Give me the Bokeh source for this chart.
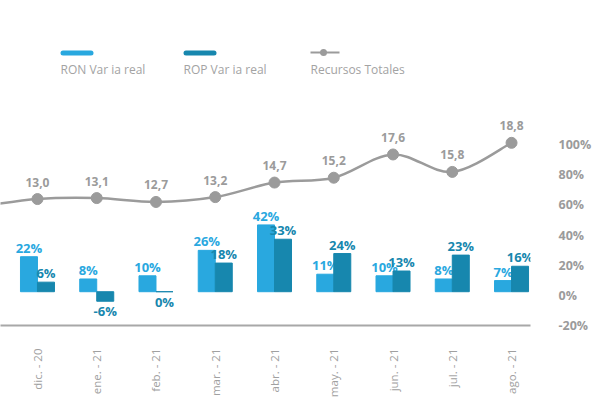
import math
from bokeh.plotting import figure
from bokeh.models import (ColumnDataSource, Range1d, LinearAxis, FixedTicker,
                          Label, BoxAnnotation)
from bokeh.core.properties import value
from bokeh.transform import dodge
from bokeh.embed import file_html
from bokeh.resources import INLINE

# ---------------- data ----------------
months = ["dic. - 20", "ene. - 21", "feb. - 21", "mar. - 21", "abr. - 21",
          "may. - 21", "jun. - 21", "jul. - 21", "ago. - 21"]
ron_var = [22, 8, 10, 26, 42, 11, 10, 8, 7]
rop_var = [6, -6, 0, 18, 33, 24, 13, 23, 16]
recursos = [13.0, 13.1, 12.7, 13.2, 14.7, 15.2, 17.6, 15.8, 18.8]
recursos_prev = 12.2          # previous month, off the left edge (line only)
axis_ticks = [-20, 0, 20, 40, 60, 80, 100]

RON_C = "#29a8df"
ROP_C = "#1787ae"
GRAY = "#9b9b9b"
FONT = "Open Sans"

idx = list(range(len(months)))

p = figure(width=600, height=400, output_backend="svg", toolbar_location=None,
           x_range=Range1d(-0.624, 8.32), y_range=Range1d(-21.25, 183.1),
           y_axis_location=None, min_border_left=0, min_border_top=0,
           min_border_right=70, min_border_bottom=73)
p.title.visible = False
p.outline_line_color = None
p.grid.visible = False
p.background_fill_color = "white"
p.border_fill_color = "white"
p.extra_y_ranges = {"line": Range1d(-0.05, 33.49), "axis": Range1d(-20, 195.6)}

# ---------------- x axis ----------------
xa = p.xaxis[0]
xa.ticker = FixedTicker(ticks=idx)
xa.major_label_overrides = {i: m for i, m in zip(idx, months)}
xa.major_label_orientation = math.pi / 2
xa.major_tick_line_color = None
xa.minor_tick_line_color = None
xa.axis_line_color = "#a8a8a8"
xa.axis_line_width = 2
xa.major_label_standoff = 17
xa.major_label_text_font = FONT
xa.major_label_text_font_size = "11.5px"
xa.major_label_text_color = "#a0a0a0"

# ---------------- right axis ----------------
ra = LinearAxis(y_range_name="axis", ticker=FixedTicker(ticks=axis_ticks))
ra.major_label_overrides = {t: f"{t}%" for t in axis_ticks}
ra.axis_line_color = None
ra.major_tick_line_color = None
ra.minor_tick_line_color = None
ra.major_label_standoff = 22
ra.major_label_text_font = FONT
ra.major_label_text_font_style = "bold"
ra.major_label_text_font_size = "12.5px"
ra.major_label_text_color = GRAY
p.add_layout(ra, "right")

# ---------------- bars ----------------
bw = 0.287
src = ColumnDataSource(dict(x=idx, ron=ron_var, rop=rop_var,
                            ron_t=[f"{v}%" for v in ron_var],
                            rop_t=[f"{v}%" for v in rop_var]))

p.vbar(x=dodge("x", -bw / 2, range=p.x_range), top="ron", bottom=0, width=bw,
       source=src, fill_color=RON_C, line_color=RON_C, line_width=1)

def label_sources(vals, texts):
    pos = dict(x=[], y=[], t=[])
    neg = dict(x=[], y=[], t=[])
    for i, v, t in zip(idx, vals, texts):
        d = pos if v > 0 else neg
        d["x"].append(i); d["y"].append(v); d["t"].append(t)
    return ColumnDataSource(pos), ColumnDataSource(neg)

def draw_labels(vals, texts, off, color):
    ps, ns = label_sources(vals, texts)
    p.text(x=dodge("x", off, range=p.x_range), y="y", text="t", source=ps,
           text_align="center", text_baseline="bottom", y_offset=0,
           text_font=value(FONT), text_font_style="bold",
           text_font_size="13px", text_color=color)
    p.text(x=dodge("x", off, range=p.x_range), y="y", text="t", source=ns,
           text_align="center", text_baseline="top", y_offset=1,
           text_font=value(FONT), text_font_style="bold",
           text_font_size="13px", text_color=color)

draw_labels(ron_var, src.data["ron_t"], -bw / 2, RON_C)

p.vbar(x=dodge("x", bw / 2, range=p.x_range), top="rop", bottom=0, width=bw,
       source=src, fill_color=ROP_C, line_color=ROP_C, line_width=1)
draw_labels(rop_var, src.data["rop_t"], bw / 2, ROP_C)

# ---------------- smooth line (Catmull-Rom -> bezier) ----------------
lx = [-1] + idx
ly = [recursos_prev] + recursos
n = len(lx)
seg = dict(x0=[], y0=[], x1=[], y1=[], cx0=[], cy0=[], cx1=[], cy1=[])
for i in range(n - 1):
    pxm, pym = (lx[i - 1], ly[i - 1]) if i > 0 else (lx[i], ly[i])
    pxp, pyp = (lx[i + 2], ly[i + 2]) if i + 2 < n else (lx[i + 1], ly[i + 1])
    seg["x0"].append(lx[i]); seg["y0"].append(ly[i])
    seg["x1"].append(lx[i + 1]); seg["y1"].append(ly[i + 1])
    seg["cx0"].append(lx[i] + (lx[i + 1] - pxm) / 6)
    seg["cy0"].append(ly[i] + (ly[i + 1] - pym) / 6)
    seg["cx1"].append(lx[i + 1] - (pxp - lx[i]) / 6)
    seg["cy1"].append(ly[i + 1] - (pyp - ly[i]) / 6)
p.bezier(source=ColumnDataSource(seg), x0="x0", y0="y0", x1="x1", y1="y1",
         cx0="cx0", cy0="cy0", cx1="cx1", cy1="cy1",
         line_color=GRAY, line_width=2.5, y_range_name="line")

lsrc = ColumnDataSource(dict(x=idx, y=recursos,
                             t=[f"{v:.1f}".replace(".", ",") for v in recursos]))
p.scatter(x="x", y="y", source=lsrc, size=11, fill_color=GRAY,
          line_color=GRAY, y_range_name="line")
p.text(x="x", y="y", text="t", source=lsrc, y_range_name="line",
       text_align="center", text_baseline="middle", y_offset=-17,
       text_font=value(FONT), text_font_style="bold", text_font_size="12px",
       text_color=GRAY)

# ---------------- legend (manual, screen units within frame) ----------------
def swatch(left, right, top, bottom, color, radius):
    p.add_layout(BoxAnnotation(left=left, right=right, top=top, bottom=bottom,
                               left_units="screen", right_units="screen",
                               top_units="screen", bottom_units="screen",
                               fill_color=color, fill_alpha=1, line_color=None,
                               border_radius=radius, editable=False))

swatch(60, 93, 275, 270, RON_C, 3)
swatch(183, 216, 275, 270, ROP_C, 3)
swatch(310, 339, 274, 272, GRAY, 0)
swatch(319.5, 326.5, 276.5, 269.5, GRAY, 4)

for x, txt in [(60, "RON Var ia real"), (183, "ROP Var ia real"),
               (310, "Recursos Totales")]:
    p.add_layout(Label(x=x, y=256, x_units="screen", y_units="screen", text=txt,
                       text_font=FONT, text_font_size="12px",
                       text_color="#a3a3a3", text_baseline="middle",
                       text_align="left"))

open("out.html", "w").write(file_html(p, INLINE))
